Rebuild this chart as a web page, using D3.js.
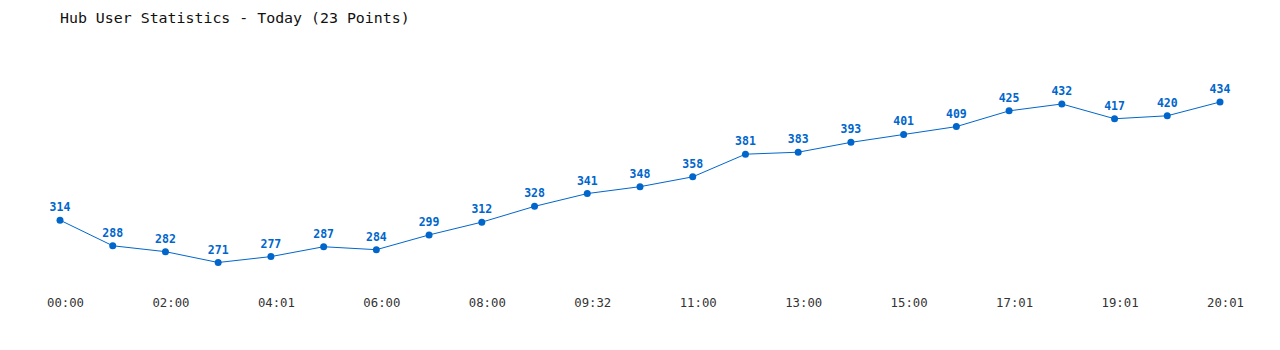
<!DOCTYPE html>
<html><head><meta charset="utf-8">
<script src="https://cdn.jsdelivr.net/npm/d3@7"></script>
<style>
html,body{margin:0;padding:0;background:#fff;}
svg{display:block;}
</style></head>
<body><svg id="c" width="1280" height="350"></svg>
<script>
const times = ["00:00","01:00","02:00","03:00","04:01","05:00","06:00","07:00","08:00","09:00","09:32","10:00","11:00","12:00","13:00","14:00","15:00","16:00","17:01","18:00","19:01","19:30","20:01"];
const users = [314,288,282,271,277,287,284,299,312,328,341,348,358,381,383,393,401,409,425,432,417,420,434];
const title = "Hub User Statistics - Today (23 Points)";
const color = "#0066cc";

const svg = d3.select("#c");
const x = d3.scalePoint().domain(times).range([60,1220]);
const y = d3.scaleLinear().domain([271,434]).range([262.5,102]);

svg.append("text").attr("x",60).attr("y",23)
  .style("font-family","'DejaVu Sans Mono',monospace").style("font-size","14.9px")
  .attr("fill","#111").text(title);

const xAxis = d3.axisBottom(x).tickValues(times.filter((d,i)=>i%2===0)).tickSize(0).tickPadding(0);
const gx = svg.append("g").attr("transform","translate(5,298)").call(xAxis);
gx.select(".domain").remove();
gx.selectAll("text").attr("dy","0.71em")
  .style("font-family","'DejaVu Sans Mono',monospace").style("font-size","12.3px").attr("fill","#333");

const line = d3.line().x((d,i)=>x(times[i])).y(d=>y(d));
svg.append("path").datum(users).attr("d",line).attr("fill","none").attr("stroke",color).attr("stroke-width",1);

svg.selectAll("circle").data(users).join("circle")
  .attr("cx",(d,i)=>x(times[i])).attr("cy",d=>y(d)).attr("r",3.5).attr("fill",color);

svg.selectAll("text.lbl").data(users).join("text").attr("class","lbl")
  .attr("x",(d,i)=>x(times[i])).attr("y",d=>y(d)-9)
  .attr("text-anchor","middle")
  .style("font-family","'DejaVu Sans Mono',monospace").style("font-size","11.5px").style("font-weight","bold")
  .attr("fill",color).text(d=>d);
</script></body></html>
